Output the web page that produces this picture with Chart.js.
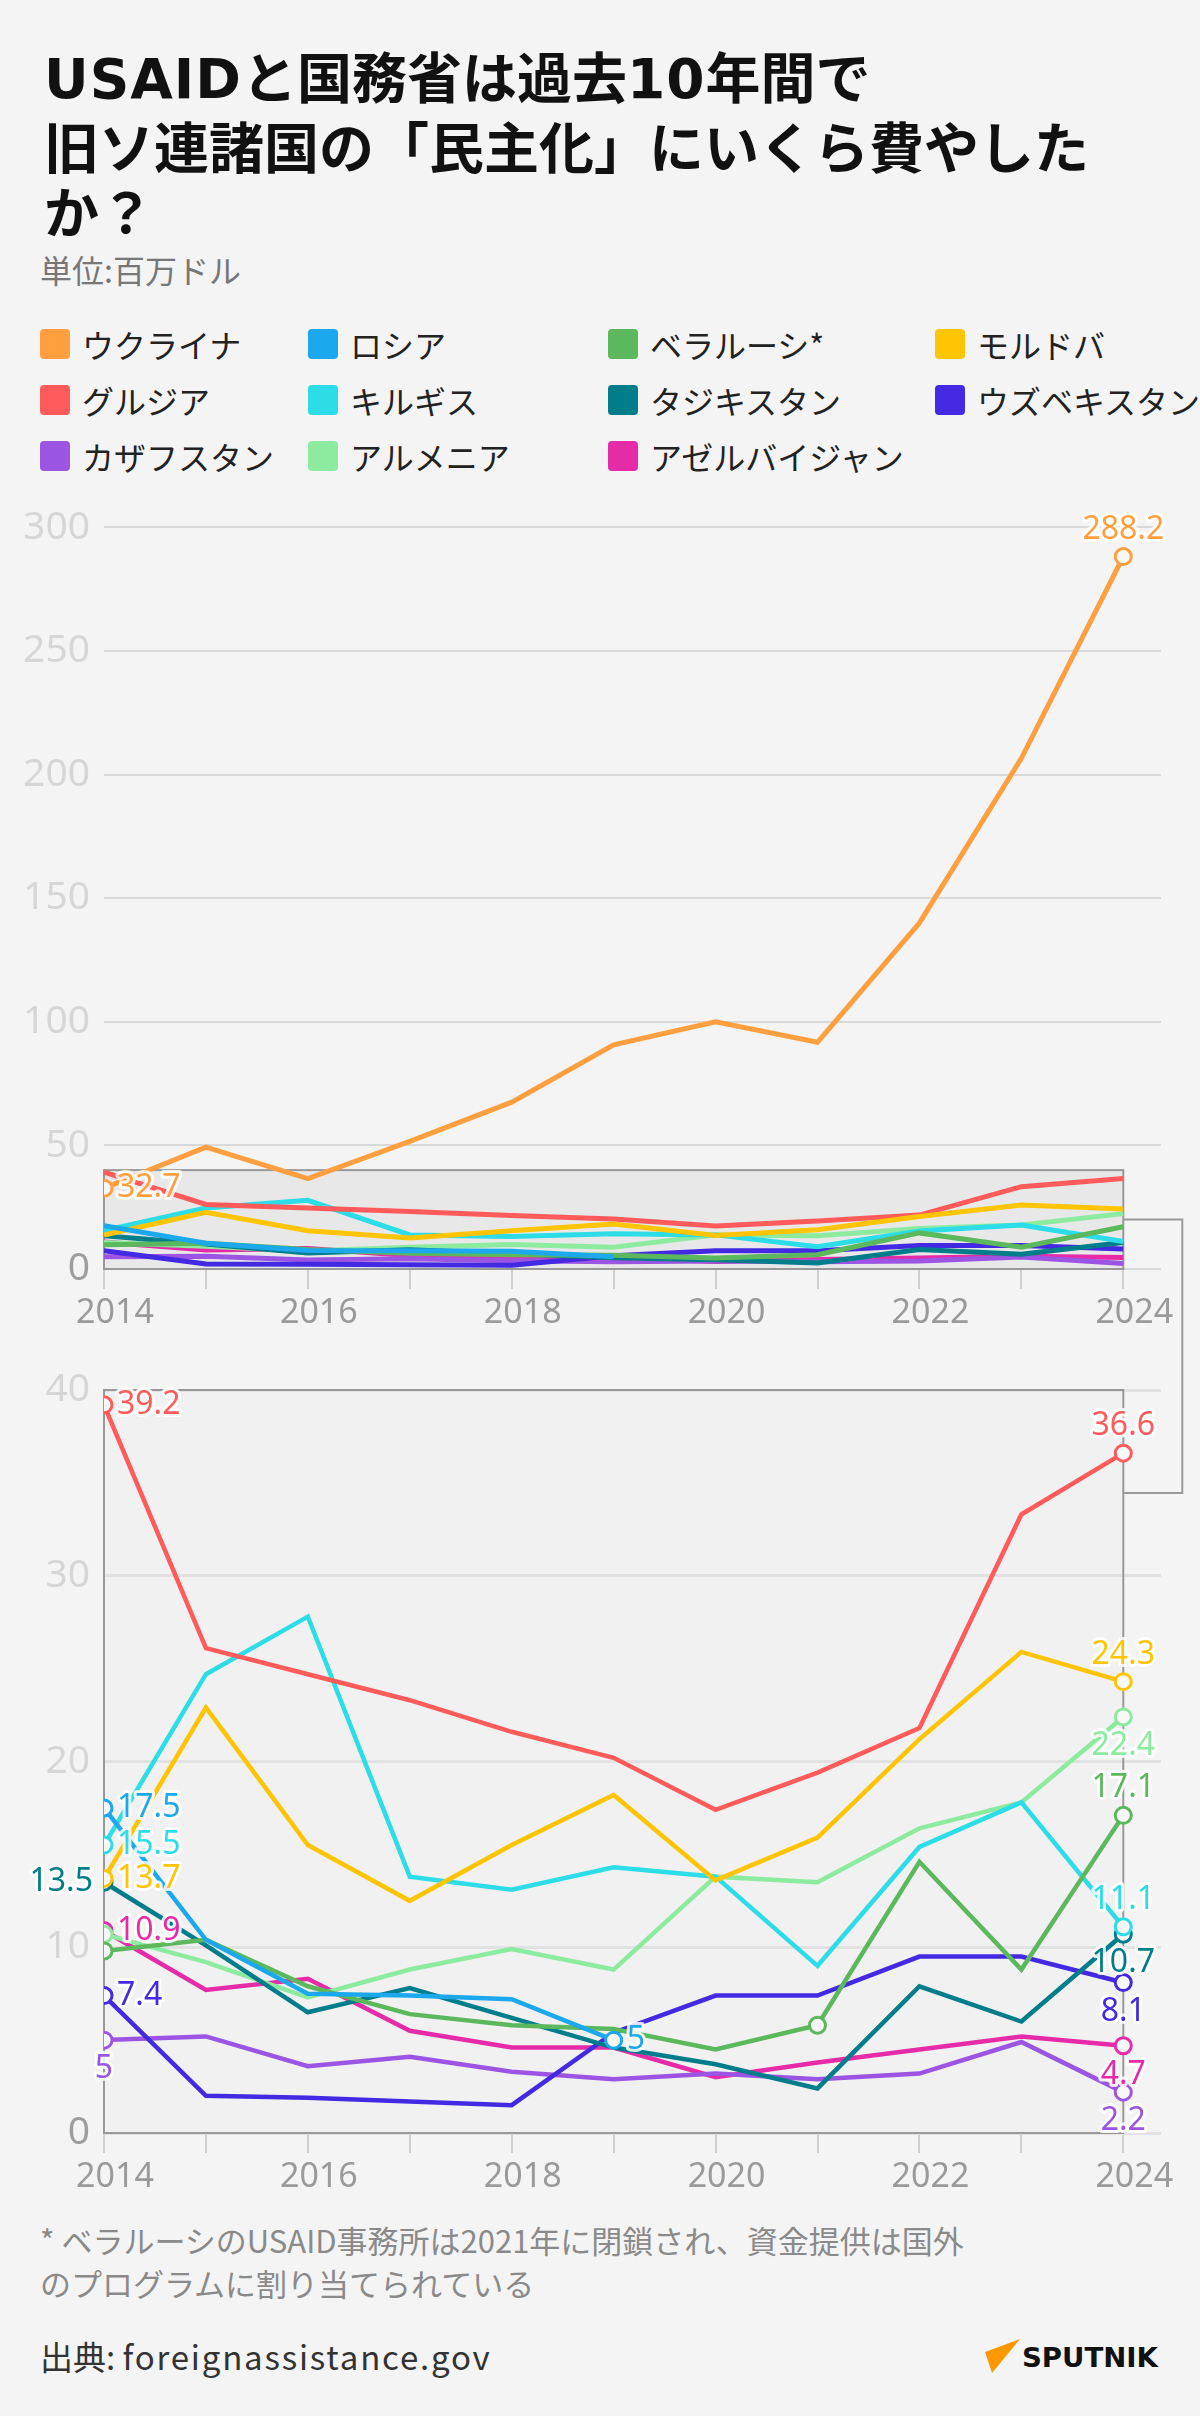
<!DOCTYPE html>
<html lang="ja">
<head>
<meta charset="utf-8">
<script src="https://cdn.jsdelivr.net/npm/chart.js@4.4.1/dist/chart.umd.min.js"></script>
<style>
  html, body { margin: 0; padding: 0; }
  body {
    width: 1200px; height: 2416px; position: relative; overflow: hidden;
    background: #f4f4f4;
    font-family: "Noto Sans CJK JP", "Noto Sans", sans-serif;
  }
  h1 {
    position: absolute; left: 44px; top: 42px; margin: 0;
    font-size: 55px; line-height: 65px; font-weight: 700; color: #111;
  }
  h1 .wide { font-family: "DejaVu Sans", sans-serif; letter-spacing: 1px; }
  h1 .num { font-family: "DejaVu Sans", sans-serif; letter-spacing: 1px; }
  .unit { position: absolute; left: 40px; top: 249px; font-size: 32px; line-height: 40px; color: #777; }
  #legend {
    position: absolute; left: 40px; top: 316px;
    display: grid; grid-template-columns: 268px 300px 327px 270px; grid-auto-rows: 56px;
  }
  .item { display: flex; align-items: center; font-size: 32px; color: #222; white-space: nowrap; }
  .sw { width: 30px; height: 30px; border-radius: 4px; margin-right: 12px; flex: none; }
  .box { position: absolute; left: 0; width: 1200px; }
  .note { position: absolute; left: 40px; top: 2218px; font-size: 31px; line-height: 43px; color: #8a8a8a; }
  .src { position: absolute; left: 40px; top: 2336px; font-size: 33px; line-height: 40px; color: #333; }
  .src span { letter-spacing: 1.8px; }
  .logo { position: absolute; left: 983px; top: 2336px; }
</style>
</head>
<body>

<h1><span class="wide">USAID</span>と国務省は過去<span class="num">10</span>年間で<br>旧ソ連諸国の「民主化」にいくら費やした<br>か？</h1>
<div class="unit">単位:百万ドル</div>
<div id="legend"></div>

<div class="box" style="top:490px;height:850px"><canvas id="topChart" width="1200" height="850"></canvas></div>
<div class="box" style="top:1340px;height:870px"><canvas id="zoomChart" width="1200" height="870"></canvas></div>

<div class="note">* ベラルーシのUSAID事務所は2021年に閉鎖され、資金提供は国外<br>のプログラムに割り当てられている</div>
<div class="src">出典: <span>foreignassistance.gov</span></div>
<svg class="logo" width="180" height="40" viewBox="0 0 180 40">
  <polygon points="2,16 37,3 9,37" fill="#ff9800"/>
  <text x="39" y="31" font-family="DejaVu Sans" font-weight="bold" font-size="26" textLength="136" lengthAdjust="spacingAndGlyphs" fill="#111">SPUTNIK</text>
</svg>

<script>
// ---- data (million USD) ----
const years = [2014, 2015, 2016, 2017, 2018, 2019, 2020, 2021, 2022, 2023, 2024];

const ukraine    = [32.7, 49.3, 36.6, 51.6, 67.5, 90.7, 100.0, 91.7, 140.0, 206.6, 288.2];
const russia     = [17.5, 10.4, 7.5, 7.4, 7.2, 5, null, null, null, null, null];
const belarus    = [9.8, 10.4, 7.9, 6.4, 5.8, 5.6, 4.5, 5.8, 14.6, 8.8, 17.1];
const moldova    = [13.7, 22.9, 15.5, 12.5, 15.5, 18.2, 13.6, 15.9, 21.2, 25.9, 24.3];
const georgia    = [39.2, 26.1, 24.7, 23.3, 21.6, 20.2, 17.4, 19.4, 21.8, 33.3, 36.6];
const kyrgyzstan = [15.5, 24.7, 27.8, 13.8, 13.1, 14.3, 13.8, 9.0, 15.4, 17.8, 11.1];
const tajikistan = [13.5, 10.1, 6.5, 7.8, 6.2, 4.6, 3.7, 2.4, 7.9, 6.0, 10.7];
const uzbekistan = [7.4, 2.0, 1.9, 1.7, 1.5, 5.4, 7.4, 7.4, 9.5, 9.5, 8.1];
const kazakhstan = [5, 5.2, 3.6, 4.1, 3.3, 2.9, 3.2, 2.9, 3.2, 4.9, 2.2];
const armenia    = [10.7, 9.2, 7.3, 8.8, 9.9, 8.8, 13.8, 13.5, 16.4, 17.8, 22.4];
const azerbaijan = [10.9, 7.7, 8.3, 5.5, 4.6, 4.6, 3.0, 3.8, 4.5, 5.2, 4.7];

const belarusOfficeClosed = 2021;

// legend order (row by row)
const series = [
  { name: "ウクライナ",     data: ukraine,    color: "#ff9f40" },
  { name: "ロシア",         data: russia,     color: "#1ca8ec" },
  { name: "ベラルーシ*",    data: belarus,    color: "#5cb85c" },
  { name: "モルドバ",       data: moldova,    color: "#ffc404" },
  { name: "グルジア",       data: georgia,    color: "#ff5b5b" },
  { name: "キルギス",       data: kyrgyzstan, color: "#2cdce6" },
  { name: "タジキスタン",   data: tajikistan, color: "#007d8a" },
  { name: "ウズベキスタン", data: uzbekistan, color: "#4329e2" },
  { name: "カザフスタン",   data: kazakhstan, color: "#9b55e2" },
  { name: "アルメニア",     data: armenia,    color: "#8deba0" },
  { name: "アゼルバイジャン", data: azerbaijan, color: "#e62ba9" },
];

// where end-point labels go (style, not data)
const topPlaces = { "ウクライナ": { first: "right", last: "above" } };
const zoomPlaces = {
  "グルジア":       { first: "right", last: "above" },
  "モルドバ":       { first: "right", last: "above" },
  "アルメニア":     { last: "below" },
  "ベラルーシ*":    { last: "above" },
  "キルギス":       { first: "right", last: "above" },
  "タジキスタン":   { first: "left",  last: "below" },
  "ウズベキスタン": { first: "right", last: "below" },
  "アゼルバイジャン": { first: "right", last: "below" },
  "カザフスタン":   { first: "below", last: "below" },
  "ロシア":         { first: "right", last: "right" },
};

// ---- legend ----
const legend = document.getElementById("legend");
series.forEach((s) => {
  const el = document.createElement("div");
  el.className = "item";
  el.innerHTML = `<span class="sw" style="background:${s.color}"></span>${s.name}`;
  legend.appendChild(el);
});

// ---- helpers ----
function ends(data) {
  const idx = data.map((v, k) => (v == null ? -1 : k)).filter((k) => k >= 0);
  return [idx[0], idx[idx.length - 1]];
}

function markerIndexes(s) {
  const out = ends(s.data);
  if (s.data === belarus) out.push(years.indexOf(belarusOfficeClosed));
  return out;
}

function toPoints(data) {
  return years.map((y, i) => ({ x: y, y: data[i] }));
}

// box of the zoomed range + bracket
const zoomBox = {
  id: "zoomBox",
  beforeDraw(chart, args, o) {
    if (!o.fill) return;
    const { x, y } = chart.scales;
    const ctx = chart.ctx;
    ctx.save();
    ctx.fillStyle = o.fill;
    ctx.fillRect(x.getPixelForValue(years[0]), y.getPixelForValue(40),
      x.getPixelForValue(years[10]) - x.getPixelForValue(years[0]),
      y.getPixelForValue(0) - y.getPixelForValue(40));
    ctx.restore();
  },
  beforeDatasetsDraw(chart, args, o) {
    const { x, y } = chart.scales;
    const ctx = chart.ctx;
    const x0 = x.getPixelForValue(years[0]);
    const x1 = x.getPixelForValue(years[10]);
    const yTop = y.getPixelForValue(40);
    const yBot = y.getPixelForValue(0);
    ctx.save();
    if (o.innerFill) {
      ctx.fillStyle = o.innerFill;
      ctx.fillRect(x0, yTop, x1 - x0, yBot - yTop);
    }
    ctx.strokeStyle = "#999";
    ctx.lineWidth = 2;
    ctx.strokeRect(x0, yTop, x1 - x0, yBot - yTop);
    // bracket linking the two charts
    ctx.beginPath();
    if (o.bracket === "top") {
      const ym = y.getPixelForValue(20);
      ctx.moveTo(x1, ym);
      ctx.lineTo(x1 + 59, ym);
      ctx.lineTo(x1 + 59, chart.height);
    } else {
      const yb = yTop + 103;
      ctx.moveTo(x1 + 59, 0);
      ctx.lineTo(x1 + 59, yb);
      ctx.lineTo(x1, yb);
    }
    ctx.stroke();
    ctx.restore();
  },
};

const valueLabels = {
  id: "valueLabels",
  afterDatasetsDraw(chart, args, o) {
    const ctx = chart.ctx;
    ctx.save();
    ctx.font = "32px 'Noto Sans'";
    ctx.lineJoin = "round";
    chart.data.datasets.forEach((ds, i) => {
      const place = o.places[ds.label];
      if (!place) return;
      const meta = chart.getDatasetMeta(i);
      const [a, b] = ends(ds.data.map((p) => p.y));
      [["first", a], ["last", b]].forEach(([end, k]) => {
        const pos = place[end];
        if (!pos) return;
        const pt = meta.data[k];
        let tx = pt.x, ty = pt.y;
        ctx.textBaseline = "middle";
        if (pos === "right") { tx += 13; ctx.textAlign = "left"; }
        else if (pos === "left") { tx -= 11; ctx.textAlign = "right"; }
        else if (pos === "above") { ty -= 27; ctx.textAlign = "center"; }
        else { ty += 29; ctx.textAlign = "center"; }
        const txt = String(ds.data[k].y);
        ctx.strokeStyle = "rgba(255,255,255,0.85)";
        ctx.lineWidth = 6;
        ctx.strokeText(txt, tx, ty);
        ctx.fillStyle = ds.borderColor;
        ctx.fillText(txt, tx, ty);
      });
    });
    ctx.restore();
  },
};

function makeChart(id, list, opt) {
  const datasets = list.map((s) => ({
    label: s.name,
    data: toPoints(s.data),
    borderColor: s.color,
    backgroundColor: "#f8f8f8",
    borderWidth: opt.lineWidth,
    pointRadius: (c) => (opt.markers(s).includes(c.dataIndex) ? 8 : 0),
    pointBorderWidth: 3,
    pointBackgroundColor: "#f8f8f8",
    pointBorderColor: s.color,
    tension: 0,
    spanGaps: false,
  }));

  return new Chart(document.getElementById(id), {
    type: "line",
    data: { datasets },
    plugins: [zoomBox, valueLabels],
    options: {
      responsive: false,
      animation: false,
      events: [],
      layout: { padding: { top: opt.padTop, right: 39, left: 0, bottom: 0 } },
      plugins: {
        legend: { display: false },
        tooltip: { enabled: false },
        zoomBox: opt.box,
        valueLabels: { places: opt.places },
      },
      scales: {
        x: {
          type: "linear",
          min: 2014,
          max: 2024.37,
          afterBuildTicks: (axis) => { axis.ticks = years.map((v) => ({ value: v })); },
          afterFit: (axis) => { axis.height = opt.xHeight; },
          grid: { drawOnChartArea: false, drawTicks: true, tickLength: 20, color: "#cfcfcf", lineWidth: 2 },
          border: { display: false },
          ticks: {
            autoSkip: false,
            maxRotation: 0,
            padding: 4,
            labelOffset: 11,
            color: "#9a9a9a",
            font: { family: "'Noto Sans'", size: 34 },
            callback: (v) => (v % 2 === 0 ? String(v) : ""),
          },
        },
        y: {
          min: 0,
          max: opt.yMax,
          afterFit: (axis) => { axis.width = 104; },
          grid: { drawTicks: false, color: opt.gridColor, lineWidth: opt.gridWidth },
          border: { display: false },
          ticks: {
            stepSize: opt.yStep,
            padding: 14,
            color: (c) => (c.tick.value === 0 ? "#9e9e9e" : "#d6d6d6"),
            font: { family: "'Noto Sans'", size: 39 },
          },
        },
      },
    },
  });
}

// overview chart (all countries)
makeChart("topChart", series, {
  yMax: 300, yStep: 50, padTop: 35, xHeight: 71, lineWidth: 5,
  gridColor: "#d9d9d9", gridWidth: 2,
  markers: (s) => (s.data === ukraine ? ends(s.data) : []),
  places: topPlaces,
  box: { innerFill: "#e8e8e8", bracket: "top" },
});

// zoomed chart 0-40 (without Ukraine)
makeChart("zoomChart", series.filter((s) => s.data !== ukraine), {
  yMax: 40, yStep: 10, padTop: 50, xHeight: 77, lineWidth: 4.5,
  gridColor: "#e2e2e2", gridWidth: 3,
  markers: markerIndexes,
  places: zoomPlaces,
  box: { fill: "#f1f1f1", bracket: "bottom" },
});
</script>
</body>
</html>
